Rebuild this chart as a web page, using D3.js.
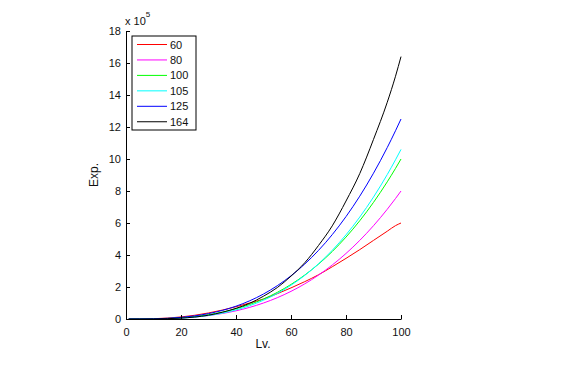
<!DOCTYPE html>
<html><head><meta charset="utf-8">
<script src="https://cdn.jsdelivr.net/npm/d3@7"></script>
<style>
html,body{margin:0;padding:0;background:#fff;}
svg{display:block;font-family:"Liberation Sans",Arial,sans-serif;}
</style></head>
<body><svg id="c" width="578" height="382"></svg>
<script>
const levels = [1,5,10,15,20,25,30,35,40,45,50,55,60,65,70,75,80,85,90,95,98,100];
const seriesNames = ["60","80","100","105","125","164"];
const seriesColors = ["#ff0000","#ff00ff","#00ff00","#00ffff","#0000ff","#000000"];
const exp60  = [0,237,1800,5737,12800,23437,37800,55737,76800,100237,125000,158056,194400,233431,276458,326531,378880,433572,491346,548720,583539,600000];
const exp80  = [0,100,800,2700,6400,12500,21600,34300,51200,72900,100000,133100,172800,219700,274400,337500,409600,491300,583200,685900,752954,800000];
const exp100 = [0,125,1000,3375,8000,15625,27000,42875,64000,91125,125000,166375,216000,274625,343000,421875,512000,614125,729000,857375,941192,1000000];
const exp105 = [0,135,560,2035,5460,11735,21760,36435,56660,83335,117360,159635,211060,272535,344960,429235,526260,636935,762160,902835,995134,1059860];
const exp125 = [0,156,1250,4219,10000,19531,33750,53594,80000,113906,156250,207969,270000,343281,428750,527344,640000,767656,911250,1071719,1176490,1250000];
const exp164 = [0,65,540,1957,5440,12187,23760,42017,66560,98415,142500,196322,267840,351520,459620,582187,737280,908905,1122660,1354652,1517174,1640000];
const allSeries = [exp60,exp80,exp100,exp105,exp125,exp164];
const xTicks = [0,20,40,60,80,100];
const yTicks = [0,200000,400000,600000,800000,1000000,1200000,1400000,1600000,1800000];

const svg = d3.select("#c");
const x = d3.scaleLinear().domain([0,100]).range([126,401]);
const y = d3.scaleLinear().domain([0,1800000]).range([319,31]);

const line = d3.line().x((d,i)=>x(levels[i])).y(d=>y(d)).curve(d3.curveMonotoneX);
allSeries.forEach((s,k)=>{
  svg.append("path").datum(s).attr("d",line).attr("fill","none")
    .attr("stroke",seriesColors[k]).attr("stroke-width",1);
});

const xAxis = d3.axisBottom(x).tickValues(xTicks).tickSizeInner(-4).tickSizeOuter(0).tickPadding(9);
const gx = svg.append("g").attr("transform","translate(0,319)").call(xAxis);
const yAxis = d3.axisLeft(y).tickValues(yTicks).tickSizeInner(-4).tickSizeOuter(0).tickPadding(5)
  .tickFormat(d=>d/100000);
const gy = svg.append("g").attr("transform","translate(126,0)").call(yAxis);
[gx,gy].forEach(g=>{
  g.selectAll("path.domain").attr("stroke","#000").attr("stroke-width",1);
  g.selectAll(".tick line").attr("stroke","#000");
  g.selectAll(".tick text").attr("font-size",11).attr("fill","#111").attr("font-family","Liberation Sans, Arial, sans-serif");
});

// exponent label
const ex = svg.append("text").attr("x",125).attr("y",25).attr("font-size",11).attr("fill","#111");
ex.append("tspan").text("x 10");
ex.append("tspan").attr("dy",-8).attr("font-size",8).text("5");

svg.append("text").attr("x",263).attr("y",348).attr("text-anchor","middle")
  .attr("font-size",12).attr("fill","#111").text("Lv.");
svg.append("text").attr("transform","translate(98,175) rotate(-90)").attr("text-anchor","middle")
  .attr("font-size",12).attr("fill","#111").text("Exp.");

// legend
const lg = svg.append("g");
lg.append("rect").attr("x",132).attr("y",36).attr("width",64).attr("height",94)
  .attr("fill","#fff").attr("stroke","#000").attr("stroke-width",1);
seriesNames.forEach((n,i)=>{
  const yy = 44.5 + i*15.45;
  lg.append("line").attr("x1",137).attr("x2",167).attr("y1",yy).attr("y2",yy)
    .attr("stroke",seriesColors[i]).attr("stroke-width",1);
  lg.append("text").attr("x",170).attr("y",yy+4).attr("font-size",11).attr("fill","#111").text(n);
});
</script>
</body></html>
